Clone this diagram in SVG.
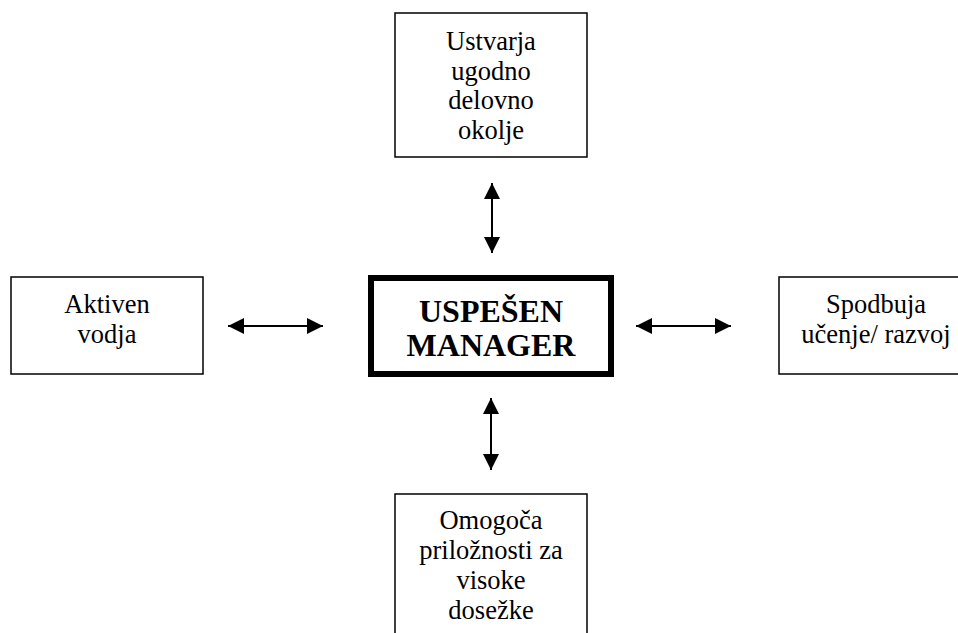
<svg xmlns="http://www.w3.org/2000/svg" width="958" height="633" viewBox="0 0 958 633">
  <defs>
    <marker id="head" viewBox="0 0 16 16" refX="16" refY="8" markerWidth="16" markerHeight="16" markerUnits="userSpaceOnUse" orient="auto-start-reverse">
      <path d="M0,0 L16,8 L0,16 Z" fill="#000"/>
    </marker>
    <style>
      .box { fill: #fff; stroke: #000; stroke-width: 1.5; }
      .core { fill: #fff; stroke: #000; stroke-width: 6; }
      .lbl { font-family: "Liberation Serif", "Times New Roman", serif; font-size: 26.5px; fill: #000; text-anchor: middle; }
      .title { font-family: "Liberation Serif", "Times New Roman", serif; font-size: 32px; font-weight: bold; fill: #000; text-anchor: middle; }
      .link { stroke: #000; stroke-width: 2; fill: none; marker-start: url(#head); marker-end: url(#head); }
    </style>
  </defs>
  <rect width="958" height="633" fill="#fff"/>

  <g id="top">
    <rect class="box" x="395" y="13" width="192" height="144"/>
    <text class="lbl" x="491" y="50">Ustvarja</text>
    <text class="lbl" x="491" y="79.5">ugodno</text>
    <text class="lbl" x="491" y="109">delovno</text>
    <text class="lbl" x="491" y="138.5">okolje</text>
  </g>

  <g id="left">
    <rect class="box" x="11" y="277" width="192" height="97"/>
    <text class="lbl" x="107" y="313">Aktiven</text>
    <text class="lbl" x="107" y="343">vodja</text>
  </g>

  <g id="center">
    <rect class="core" x="371" y="278" width="240" height="96"/>
    <text class="title" x="491" y="322">USPEŠEN</text>
    <text class="title" x="491" y="356">MANAGER</text>
  </g>

  <g id="right">
    <rect class="box" x="779" y="277" width="194" height="97"/>
    <text class="lbl" x="876" y="313">Spodbuja</text>
    <text class="lbl" x="876" y="343">učenje/ razvoj</text>
  </g>

  <g id="bottom">
    <rect class="box" x="395" y="494" width="192" height="150"/>
    <text class="lbl" x="491" y="529">Omogoča</text>
    <text class="lbl" x="491" y="559">priložnosti za</text>
    <text class="lbl" x="491" y="589">visoke</text>
    <text class="lbl" x="491" y="619">dosežke</text>
  </g>

  <g id="connectors">
    <line class="link" x1="492" y1="183" x2="492" y2="253"/>
    <line class="link" x1="491" y1="398" x2="491" y2="470"/>
    <line class="link" x1="228" y1="326" x2="323" y2="326"/>
    <line class="link" x1="636" y1="326" x2="731" y2="326"/>
  </g>
</svg>
